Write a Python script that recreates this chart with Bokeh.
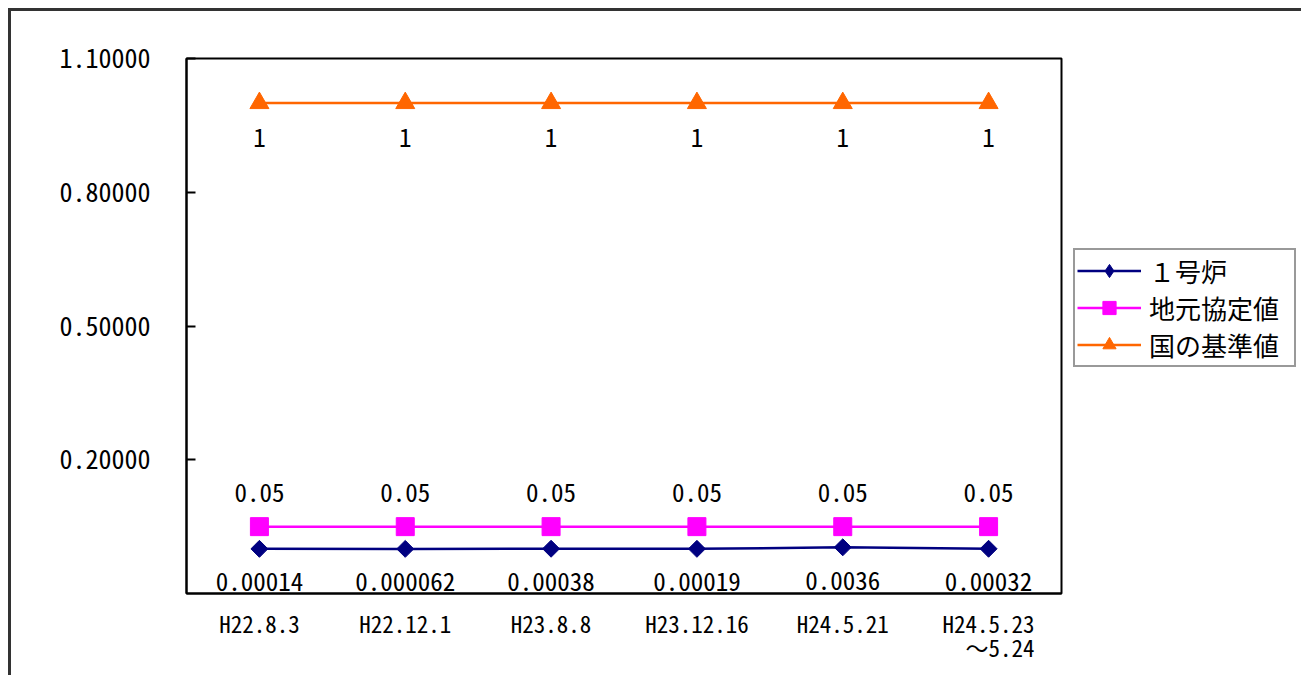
import numpy as np
from bokeh.plotting import figure
from bokeh.models import FixedTicker, Legend, LegendItem, Range1d, ColumnDataSource
from bokeh.core.properties import value
from bokeh.embed import file_html
from bokeh.resources import INLINE

# ---- data ----
dates = ["H22.8.3", "H22.12.1", "H23.8.8", "H23.12.16", "H24.5.21", "H24.5.23\n　～5.24"]
unit1 = [0.00014, 0.000062, 0.00038, 0.00019, 0.0036, 0.00032]
local_limit = [0.05, 0.05, 0.05, 0.05, 0.05, 0.05]
national_limit = [1, 1, 1, 1, 1, 1]
series_names = ["１号炉", "地元協定値", "国の基準値"]
y_ticks = [0.2, 0.5, 0.8, 1.1]
y_tick_labels = ["0.20000", "0.50000", "0.80000", "1.10000"]

FONT = "Noto Sans Mono CJK JP, Noto Sans CJK JP"


def fmt(v):
    return np.format_float_positional(float(v), trim="-")


xs = list(range(len(dates)))

p = figure(
    frame_width=875, frame_height=535,
    x_range=Range1d(-0.5, len(dates) - 0.5), y_range=Range1d(-0.1, 1.1),
    output_backend="svg", toolbar_location=None,
    min_border_left=175, min_border_top=47, min_border_right=235, min_border_bottom=82,
)
p.styles = {"margin-left": "8px", "margin-top": "8px",
            "border-left": "3px solid #333333", "border-top": "3px solid #333333"}
p.background_fill_color = "white"
p.border_fill_color = "white"
p.outline_line_color = "black"
p.outline_line_width = 2
p.xgrid.visible = False
p.ygrid.visible = False

# y axis
p.yaxis.ticker = FixedTicker(ticks=y_ticks)
p.yaxis.major_label_overrides = {t: l for t, l in zip(y_ticks, y_tick_labels)}
p.yaxis.major_tick_in = 9
p.yaxis.major_tick_out = 0
p.yaxis.minor_tick_in = 0
p.yaxis.minor_tick_out = 0
p.yaxis.axis_line_color = "black"
p.yaxis.axis_line_width = 2
p.yaxis.major_tick_line_color = "black"
p.yaxis.major_tick_line_width = 2
p.yaxis.major_label_text_font = FONT
p.yaxis.major_label_text_font_size = "26px"
p.yaxis.major_label_text_color = "black"
p.yaxis.major_label_standoff = 36

# x axis
p.xaxis.ticker = FixedTicker(ticks=xs)
p.xaxis.major_label_overrides = {i: d for i, d in zip(xs, dates)}
p.xaxis.major_tick_in = 0
p.xaxis.major_tick_out = 0
p.xaxis.minor_tick_in = 0
p.xaxis.minor_tick_out = 0
p.xaxis.axis_line_color = "black"
p.xaxis.axis_line_width = 2
p.xaxis.major_label_text_font = FONT
p.xaxis.major_label_text_font_size = "23px"
p.xaxis.major_label_text_color = "black"
p.xaxis.major_label_text_line_height = 0.72
p.xaxis.major_label_standoff = 12

src = ColumnDataSource(dict(
    x=xs, u1=unit1, loc=local_limit, nat=national_limit,
    u1_lbl=[fmt(v) for v in unit1],
    loc_lbl=[fmt(v) for v in local_limit],
    nat_lbl=[fmt(v) for v in national_limit],
))

l1 = p.line("x", "u1", source=src, line_color="#000080", line_width=2.5)
m1 = p.scatter("x", "u1", source=src, marker="square", angle=np.pi / 4, size=12,
               fill_color="#000080", line_color="#000080")
# legend-only glyph (diamond swatch for the legend; NaN position draws nothing in the plot)
m1_leg = p.scatter(x=[np.nan], y=[np.nan], marker="diamond", size=12,
                   fill_color="#000080", line_color="#000080")
l2 = p.line("x", "loc", source=src, line_color="#FF00FF", line_width=2.5)
m2 = p.scatter("x", "loc", source=src, marker="square", size=18,
               fill_color="#FF00FF", line_color="#FF00FF")
l3 = p.line("x", "nat", source=src, line_color="#FF6600", line_width=2.5)
m3 = p.scatter("x", "nat", source=src, marker="triangle", size=19,
               fill_color="#FF6600", line_color="#FF6600")

common = dict(text_font=value(FONT), text_font_size="25px", text_color="black",
              text_align="center", text_baseline="middle")
p.text("x", "u1", text="u1_lbl", source=src, y_offset=33, **common)
p.text("x", "loc", text="loc_lbl", source=src, y_offset=-34, **common)
p.text("x", "nat", text="nat_lbl", source=src, y_offset=34, **common)

legend = Legend(items=[
    LegendItem(label=series_names[0], renderers=[l1, m1_leg]),
    LegendItem(label=series_names[1], renderers=[l2, m2]),
    LegendItem(label=series_names[2], renderers=[l3, m3]),
], location=(12, 226))
legend.border_line_color = "#333333"
legend.border_line_width = 2
legend.background_fill_color = "white"
legend.background_fill_alpha = 1
legend.label_text_font = FONT
legend.label_text_font_size = "26px"
legend.label_text_color = "black"
legend.glyph_width = 64
legend.glyph_height = 33
legend.label_height = 33
legend.label_width = 143
legend.label_standoff = 8
legend.spacing = 0
legend.padding = 2
legend.margin = 0
p.add_layout(legend, "right")

open("out.html", "w").write(file_html(p, INLINE))
